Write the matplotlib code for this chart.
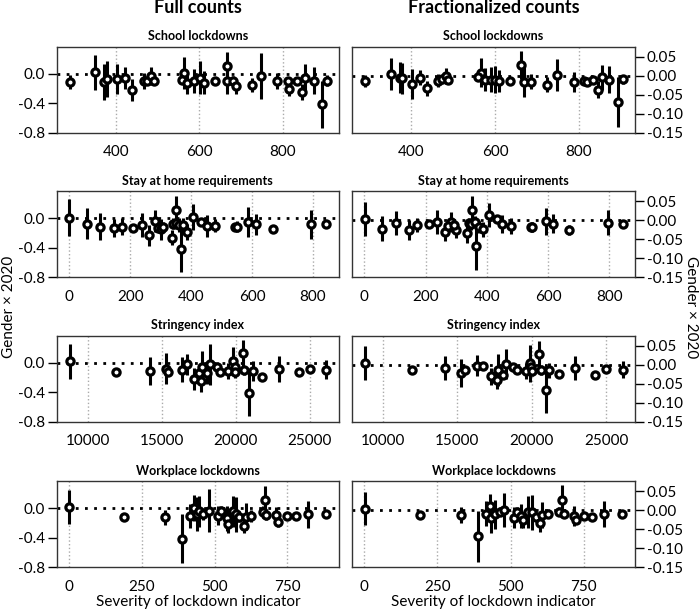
import matplotlib
matplotlib.use("Agg")
import matplotlib.pyplot as plt
from matplotlib.ticker import FormatStrFormatter

plt.rcParams["font.family"] = ["Lato", "DejaVu Sans"]
plt.rcParams["axes.unicode_minus"] = False

# ---- School lockdowns ----
school_x_full = [289, 350, 370, 379, 402, 421, 439, 467, 475, 483, 490, 563, 559, 571, 587,
                 602, 610, 637, 666, 667, 681, 688, 725, 747, 787, 813, 815, 834, 847, 854,
                 874, 894, 907]
school_full = [-0.11, 0.02, -0.11, -0.07, -0.07, -0.05, -0.22, -0.10, -0.10, -0.03, -0.10,
               0.01, -0.08, -0.12, -0.10, -0.05, -0.12, -0.10, 0.11, -0.09, -0.09, -0.17,
               -0.15, -0.03, -0.10, -0.09, -0.21, -0.09, -0.25, -0.05, -0.09, -0.41, -0.09]
school_full_err = [0.10, 0.24, 0.25, 0.25, 0.21, 0.15, 0.15, 0.11, 0.05, 0.12, 0.05, 0.22,
                   0.06, 0.15, 0.16, 0.22, 0.16, 0.05, 0.19, 0.19, 0.06, 0.10, 0.10, 0.31,
                   0.11, 0.05, 0.09, 0.05, 0.11, 0.18, 0.19, 0.32, 0.08]
school_x_frac = [288, 350, 372, 378, 402, 420, 438, 464, 474, 482, 488, 566, 560, 576, 590,
                 600, 610, 636, 662, 668, 686, 724, 748, 789, 812, 818, 834, 846, 854, 872,
                 894, 906]
school_frac = [-0.014, 0.004, -0.005, -0.007, -0.022, -0.005, -0.033, -0.014, -0.010, -0.001,
               -0.011, 0.008, -0.004, -0.011, -0.011, -0.011, -0.014, -0.013, 0.028, -0.016,
               -0.016, -0.024, 0.002, -0.016, -0.014, -0.018, -0.011, -0.037, -0.004, -0.011,
               -0.069, -0.010]
school_frac_err = [0.016, 0.042, 0.041, 0.041, 0.039, 0.020, 0.020, 0.017, 0.008, 0.022,
                   0.008, 0.037, 0.010, 0.030, 0.033, 0.035, 0.028, 0.008, 0.037, 0.041,
                   0.020, 0.020, 0.042, 0.026, 0.008, 0.010, 0.008, 0.022, 0.033, 0.035,
                   0.065, 0.012]

# ---- Stay at home requirements ----
home_x_full = [0, 58, 101, 148, 172, 209, 238, 262, 280, 290, 301, 309, 336, 341, 350, 352,
               361, 367, 374, 385, 405, 432, 451, 480, 543, 549, 587, 614, 669, 794, 843]
home_full = [0.01, -0.07, -0.11, -0.13, -0.11, -0.13, -0.09, -0.23, -0.04, -0.13, -0.15,
             -0.11, -0.26, -0.07, 0.11, -0.06, -0.09, -0.41, -0.09, -0.18, 0.02, -0.05,
             -0.10, -0.10, -0.11, -0.11, -0.05, -0.08, -0.14, -0.08, -0.08]
home_full_err = [0.25, 0.21, 0.18, 0.12, 0.11, 0.05, 0.16, 0.14, 0.15, 0.06, 0.14, 0.06,
                 0.10, 0.08, 0.20, 0.08, 0.10, 0.32, 0.10, 0.11, 0.18, 0.05, 0.15, 0.09,
                 0.04, 0.08, 0.20, 0.14, 0.05, 0.20, 0.04]
home_x_frac = [2, 57, 104, 147, 173, 210, 238, 262, 282, 273, 300, 293, 335, 341, 353, 349,
               360, 366, 373, 388, 407, 432, 450, 478, 544, 549, 592, 615, 669, 797, 843]
home_frac = [0.004, -0.022, -0.007, -0.026, -0.013, -0.011, -0.004, -0.031, -0.004, -0.016,
             -0.026, -0.013, -0.035, -0.007, 0.028, -0.011, -0.004, -0.068, -0.018, -0.024,
             0.013, 0.002, -0.011, -0.015, -0.018, -0.018, -0.003, -0.009, -0.026, -0.007,
             -0.011]
home_frac_err = [0.045, 0.032, 0.031, 0.026, 0.018, 0.008, 0.032, 0.024, 0.026, 0.012,
                 0.022, 0.012, 0.026, 0.012, 0.036, 0.015, 0.015, 0.063, 0.015, 0.020,
                 0.032, 0.008, 0.024, 0.022, 0.006, 0.013, 0.036, 0.026, 0.013, 0.033,
                 0.006]

# ---- Stringency index ----
string_x_full = [8788, 11908, 14220, 15275, 15455, 16353, 16690, 17184, 17520, 17655, 17745,
                 18082, 18261, 18711, 18936, 19497, 19833, 19946, 19946, 20462, 20574, 20911,
                 21180, 21787, 22931, 24278, 24996, 26119]
string_full = [0.02, -0.12, -0.11, -0.08, -0.12, -0.09, -0.02, -0.22, -0.14, -0.25, -0.05,
               -0.14, -0.02, -0.05, -0.12, -0.11, 0.02, -0.05, -0.12, 0.13, -0.10, -0.41,
               -0.11, -0.19, -0.08, -0.12, -0.08, -0.09]
string_full_err = [0.24, 0.04, 0.19, 0.21, 0.06, 0.17, 0.14, 0.15, 0.06, 0.14, 0.21, 0.15,
                   0.28, 0.06, 0.06, 0.11, 0.19, 0.08, 0.08, 0.18, 0.06, 0.31, 0.14, 0.05,
                   0.18, 0.04, 0.04, 0.13]
string_x_frac = [8808, 11957, 14206, 15285, 15510, 16342, 16747, 17242, 17647, 17760, 18097,
                 18277, 18771, 18996, 19603, 19896, 19963, 20008, 20525, 20638, 20953, 21133,
                 21807, 22932, 24281, 25000, 26125]
string_frac = [0.004, -0.014, -0.009, -0.022, -0.014, -0.003, -0.003, -0.031, -0.041, -0.014,
               -0.026, 0.002, -0.005, -0.014, -0.017, 0.003, -0.005, -0.017, 0.027, -0.014,
               -0.066, -0.015, -0.024, -0.009, -0.028, -0.011, -0.013]
string_frac_err = [0.044, 0.007, 0.032, 0.036, 0.010, 0.028, 0.010, 0.023, 0.023, 0.043,
                   0.012, 0.040, 0.010, 0.010, 0.021, 0.048, 0.012, 0.012, 0.036, 0.012,
                   0.062, 0.020, 0.008, 0.032, 0.008, 0.007, 0.023]

# ---- Workplace lockdowns ----
work_x_full = [0, 190, 329, 386, 415, 430, 438, 446, 461, 480, 512, 523, 541, 546, 563, 573,
               584, 601, 609, 626, 666, 674, 678, 712, 718, 749, 778, 821, 884]
work_full = [0.02, -0.12, -0.12, -0.41, -0.10, 0.01, -0.07, -0.04, -0.08, -0.03, -0.10,
             -0.04, -0.13, -0.21, -0.04, -0.08, -0.11, -0.24, -0.11, -0.10, -0.05, 0.11,
             -0.09, -0.09, -0.19, -0.10, -0.10, -0.08, -0.08]
work_full_err = [0.23, 0.04, 0.10, 0.33, 0.16, 0.18, 0.23, 0.21, 0.08, 0.29, 0.13, 0.07,
                 0.17, 0.13, 0.21, 0.24, 0.08, 0.10, 0.18, 0.08, 0.08, 0.19, 0.06, 0.11,
                 0.06, 0.05, 0.04, 0.18, 0.04]
work_x_frac = [2, 191, 331, 389, 415, 429, 434, 446, 463, 478, 511, 523, 537, 541, 560, 572,
               586, 600, 609, 629, 666, 677, 683, 718, 724, 752, 780, 820, 882]
work_frac = [0.004, -0.013, -0.013, -0.069, -0.009, 0.010, -0.020, -0.011, -0.004, 0.000,
             -0.020, -0.004, -0.016, -0.026, -0.004, -0.006, -0.017, -0.034, -0.013, -0.009,
             -0.004, 0.028, -0.009, -0.016, -0.026, -0.015, -0.017, -0.009, -0.010]
work_frac_err = [0.044, 0.007, 0.021, 0.068, 0.032, 0.032, 0.041, 0.039, 0.012, 0.045,
                 0.028, 0.012, 0.032, 0.021, 0.042, 0.045, 0.012, 0.022, 0.034, 0.012,
                 0.012, 0.037, 0.010, 0.026, 0.010, 0.008, 0.007, 0.034, 0.006]

panel_titles = ["School lockdowns", "Stay at home requirements", "Stringency index",
                "Workplace lockdowns"]
panel_xticks = [[400, 600, 800], [0, 200, 400, 600, 800], [10000, 15000, 20000, 25000],
                [0, 250, 500, 750]]
panel_xlims = [(258, 934), (-40, 884), (7935, 26950), (-42, 926)]

full_data = [(school_x_full, school_full, school_full_err),
             (home_x_full, home_full, home_full_err),
             (string_x_full, string_full, string_full_err),
             (work_x_full, work_full, work_full_err)]
frac_data = [(school_x_frac, school_frac, school_frac_err),
             (home_x_frac, home_frac, home_frac_err),
             (string_x_frac, string_frac, string_frac_err),
             (work_x_frac, work_frac, work_frac_err)]


def draw_panel(ax, x, y, err, title, xticks, xlim):
    lo = [v - e for v, e in zip(y, err)]
    hi = [v + e for v, e in zip(y, err)]
    ax.axhline(0, color="black", lw=2, ls=(0, (1, 2.3)), zorder=1)
    ax.vlines(x, lo, hi, color="black", lw=2.2, zorder=2)
    ax.plot(x, y, "o", ms=5.2, mfc="white", mec="black", mew=2.3, zorder=3)
    ax.set_xticks(xticks)
    ax.set_xlim(*xlim)
    ax.grid(axis="x", color="#aaaaaa", ls=":", lw=1)
    ax.set_axisbelow(True)
    ax.set_title(title, fontsize=9, fontweight="bold", pad=4.5)
    ax.tick_params(axis="x", length=0, pad=9, labelsize=11)
    ax.tick_params(axis="y", length=6.5, width=1, pad=2, labelsize=11)
    for s in ax.spines.values():
        s.set_color("#333333")
        s.set_linewidth(1)


fig = plt.figure(figsize=(6.99, 6.11), dpi=100)

row_bottoms = [0.7828, 0.5462, 0.3098, 0.0715]
row_h = 0.1408

for i in range(4):
    ax_l = fig.add_axes([0.0815, row_bottoms[i], 0.403, row_h])
    draw_panel(ax_l, *full_data[i], panel_titles[i], panel_xticks[i], panel_xlims[i])
    ax_l.set_ylim(-0.8, 0.37)
    ax_l.set_yticks([0.0, -0.4, -0.8])
    ax_l.yaxis.set_major_formatter(FormatStrFormatter("%.1f"))

    ax_r = fig.add_axes([0.5036, row_bottoms[i], 0.405, row_h])
    draw_panel(ax_r, *frac_data[i], panel_titles[i], panel_xticks[i], panel_xlims[i])
    ax_r.set_ylim(-0.15, 0.076)
    ax_r.set_yticks([0.05, 0.0, -0.05, -0.10, -0.15])
    ax_r.yaxis.set_major_formatter(FormatStrFormatter("%.2f"))
    ax_r.yaxis.tick_right()

    if i == 3:
        ax_l.set_xlabel("Severity of lockdown indicator", fontsize=11, labelpad=0.5)
        ax_r.set_xlabel("Severity of lockdown indicator", fontsize=11, labelpad=0.5)

fig.text(0.2826, 0.978, "Full counts", ha="center", va="baseline",
         fontsize=13, fontweight="bold")
fig.text(0.707, 0.978, "Fractionalized counts", ha="center", va="baseline",
         fontsize=13, fontweight="bold")
fig.text(0.013, 0.497, "Gender × 2020", rotation=90, ha="center", va="center", fontsize=11)
fig.text(0.9886, 0.497, "Gender × 2020", rotation=270, ha="center", va="center", fontsize=11)

fig.savefig("out.png", dpi=100)
